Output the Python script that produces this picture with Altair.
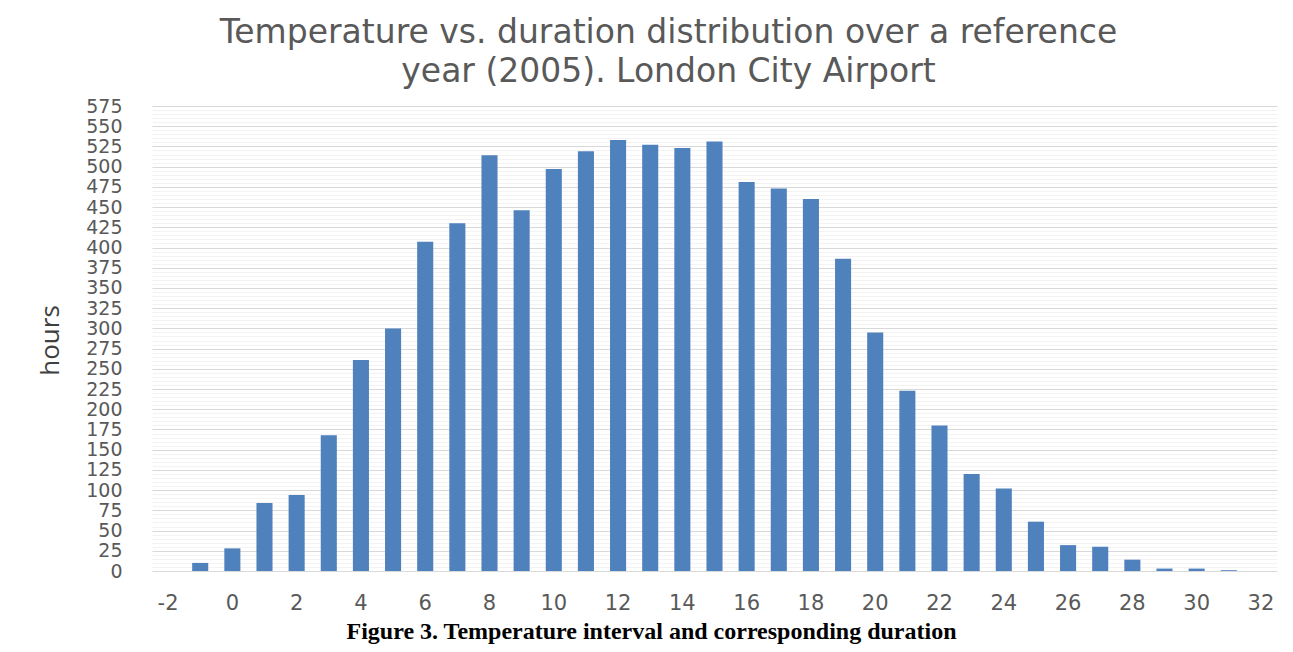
import altair as alt
import pandas as pd

temps = list(range(-2, 33))
hours = [0, 10, 28, 84, 94, 168, 261, 300, 407, 430, 514, 446, 497, 519, 533, 527,
         523, 531, 481, 473, 460, 386, 295, 223, 180, 120, 102, 61, 32, 30, 14, 3, 3, 1, 0]
x_ticks = list(range(-2, 33, 2))
y_grid = list(range(0, 580, 5))

title_lines = ["Temperature vs. duration distribution over a reference",
               "year (2005). London City Airport"]
caption = "Figure 3. Temperature interval and corresponding duration"

df = pd.DataFrame({"temp": temps, "hours": hours})

chart = alt.Chart(df).mark_bar(color="#4f81bd").encode(
    x=alt.X("temp:O", sort=temps,
            scale=alt.Scale(paddingInner=0.5, paddingOuter=0.25),
            axis=alt.Axis(values=x_ticks, labelAngle=0, labelFontSize=21,
                          labelColor="#595959", labelFont="DejaVu Sans",
                          ticks=False, domain=False, labelPadding=21, grid=False,
                          title=caption, titleFont="Liberation Serif",
                          titleFontWeight="bold", titleFontSize=24, titleColor="black",
                          titleX=499, titleY=60, titleAlign="center",
                          titleBaseline="middle")),
    y=alt.Y("hours:Q", scale=alt.Scale(domain=[0, 575], nice=False, zero=True),
            axis=alt.Axis(values=y_grid,
                          labelExpr="datum.value % 25 === 0 ? datum.label : ''",
                          labelOverlap=False, labelFontSize=19, labelColor="#595959",
                          labelFont="DejaVu Sans", labelPadding=30, ticks=False,
                          domain=False,
                          gridColor={"condition": {"test": "datum.value % 25 === 0",
                                                   "value": "#d9d9d9"},
                                     "value": "#f3f3f3"},
                          gridWidth=1.2,
                          title="hours", titleFont="Open Sans", titleFontSize=26,
                          titleFontWeight="normal", titleColor="#404040",
                          titleAngle=270, titleX=-102, titleY=234,
                          titleAlign="center", titleBaseline="middle")),
).properties(
    width=1125, height=465,
    title=alt.TitleParams(text=title_lines, fontSize=33, font="DejaVu Sans",
                          fontWeight="normal", color="#595959", anchor="middle",
                          dx=-46, lineHeight=39, offset=8),
    autosize=alt.AutoSizeParams(type="none"),
    padding={"left": 144, "top": 98, "right": 8, "bottom": 73},
).configure_view(stroke=None)

chart.save("out.html", embed_options={"renderer": "svg", "actions": False})
